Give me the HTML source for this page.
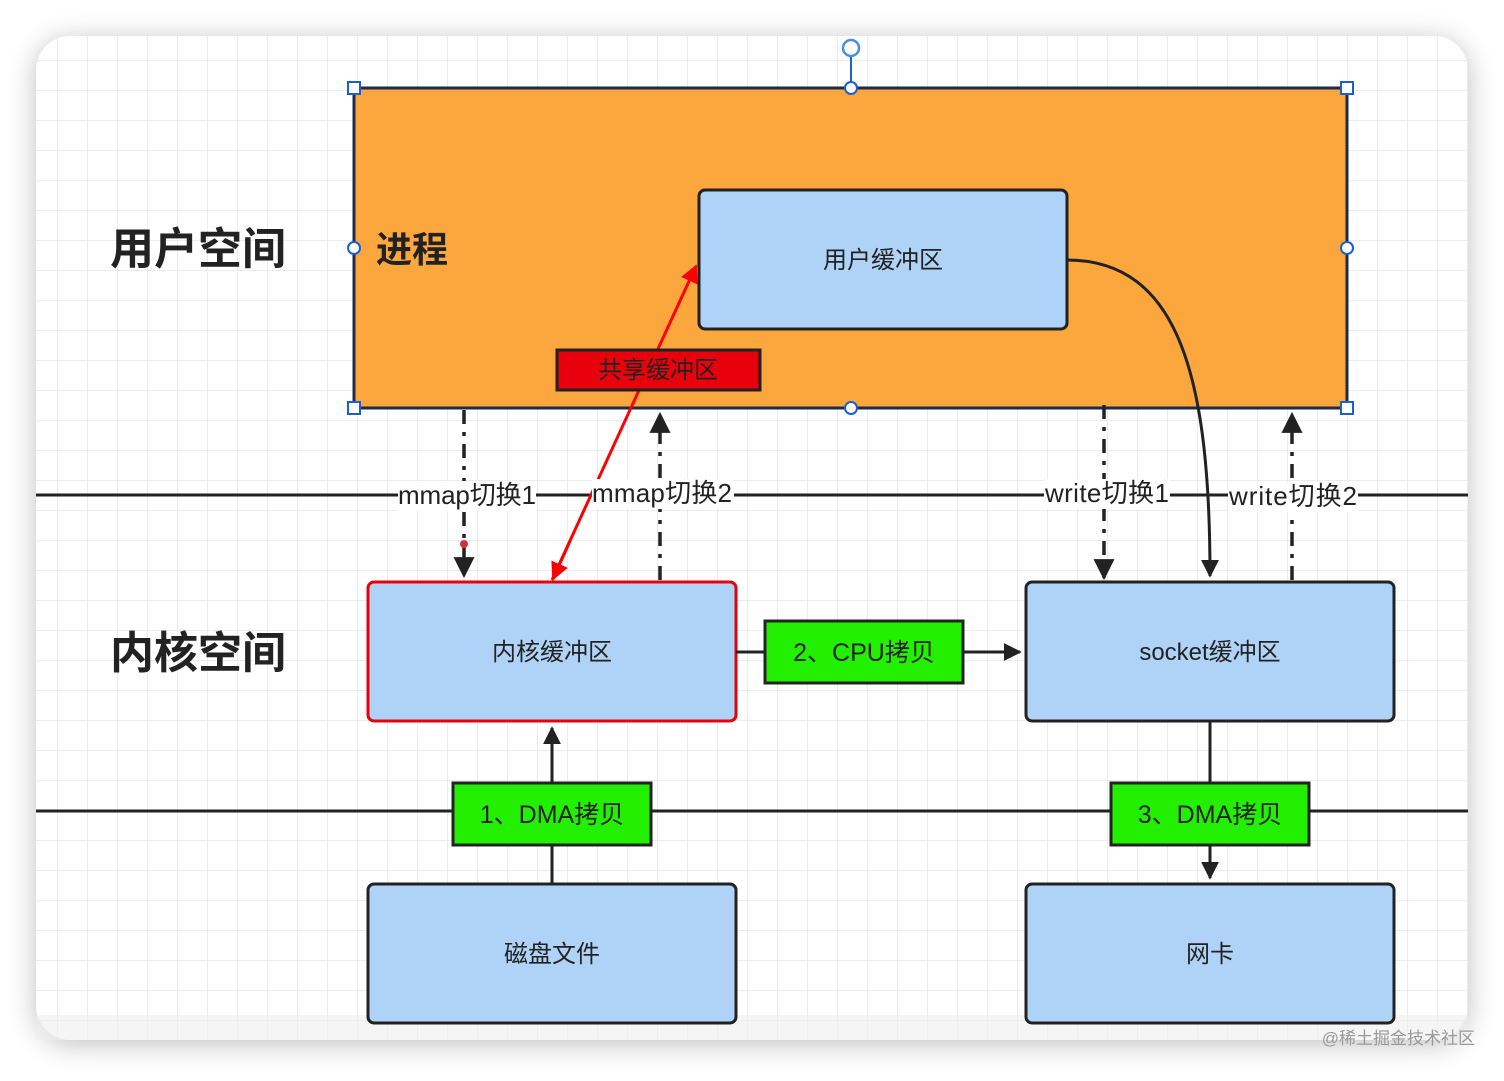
<!DOCTYPE html>
<html><head><meta charset="utf-8"><style>
body{margin:0;width:1504px;height:1076px;background:#fff;overflow:hidden}
</style></head><body>
<svg width="1504" height="1076" xmlns="http://www.w3.org/2000/svg" font-family="Liberation Sans, Noto Sans CJK SC, sans-serif">
<defs>
<pattern id="g" x="27" y="0" width="30" height="30" patternUnits="userSpaceOnUse">
<path d="M0 0V30M0 0H30" stroke="#e6e6e6" stroke-width="1.5" fill="none"/>
</pattern>
<filter id="sh" x="-10%" y="-10%" width="120%" height="120%"><feGaussianBlur stdDeviation="14"/></filter>
<marker id="a" viewBox="0 0 10 10" refX="9" refY="5" markerWidth="6" markerHeight="6" orient="auto"><path d="M0 0L10 5L0 10z" fill="#222"/></marker>
<marker id="r" viewBox="0 0 10 10" refX="9" refY="5" markerWidth="6" markerHeight="6" orient="auto"><path d="M0 0L10 5L0 10z" fill="#f00"/></marker>
</defs>
<rect x="36" y="40" width="1432" height="1004" rx="34" fill="#000" opacity="0.25" filter="url(#sh)"/>
<rect x="36" y="36" width="1432" height="1004" rx="34" fill="#fff"/>
<rect x="36" y="36" width="1432" height="1004" rx="34" fill="url(#g)"/>
<rect x="36" y="1015" width="1432" height="25" fill="#eee" opacity="0.6"/>
<line x1="36" y1="495" x2="1468" y2="495" stroke="#222" stroke-width="3"/>
<line x1="36" y1="811" x2="1468" y2="811" stroke="#222" stroke-width="3"/>
<rect x="354" y="88" width="993" height="320" fill="#fca73e" stroke="#1c2b4a" stroke-width="3"/>
<line x1="851" y1="56" x2="851" y2="88" stroke="#1a5fcc" stroke-width="2"/>
<circle cx="851" cy="48" r="8" fill="#fff" stroke="#4a8fe0" stroke-width="2.5"/>
<g fill="#fff" stroke="#1a5fcc" stroke-width="2">
<rect x="348" y="82" width="12" height="12"/><rect x="1341" y="82" width="12" height="12"/>
<rect x="348" y="402" width="12" height="12"/><rect x="1341" y="402" width="12" height="12"/>
<circle cx="851" cy="88" r="6"/><circle cx="851" cy="408" r="6"/>
<circle cx="354" cy="248" r="6"/><circle cx="1347" cy="248" r="6"/>
</g>
<text x="198" y="264" font-size="44" font-weight="bold" text-anchor="middle" fill="#222">用户空间</text>
<text x="198" y="668" font-size="44" font-weight="bold" text-anchor="middle" fill="#222">内核空间</text>
<text x="376" y="262" font-size="36" font-weight="bold" fill="#222">进程</text>
<rect x="699" y="190" width="368" height="139" rx="6" fill="#aed3f7" stroke="#222" stroke-width="3"/>
<text x="883" y="268" font-size="24" text-anchor="middle" fill="#222">用户缓冲区</text>
<line x1="552" y1="580" x2="696" y2="266" stroke="#f00" stroke-width="3" marker-end="url(#r)"/>
<rect x="557" y="350" width="203" height="40" fill="#e8000c" stroke="#222" stroke-width="3"/>
<text x="658" y="378" font-size="24" text-anchor="middle" fill="#222">共享缓冲区</text>
<rect x="368" y="582" width="368" height="139" rx="6" fill="#aed3f7" stroke="#e8000c" stroke-width="3"/>
<text x="552" y="660" font-size="24" text-anchor="middle" fill="#222">内核缓冲区</text>
<line x1="570" y1="541" x2="553" y2="579" stroke="#f00" stroke-width="3" marker-end="url(#r)"/>
<rect x="1026" y="582" width="368" height="139" rx="6" fill="#aed3f7" stroke="#222" stroke-width="3"/>
<text x="1210" y="660" font-size="24" text-anchor="middle" fill="#222">socket缓冲区</text>
<rect x="368" y="884" width="368" height="139" rx="6" fill="#aed3f7" stroke="#222" stroke-width="3"/>
<text x="552" y="962" font-size="24" text-anchor="middle" fill="#222">磁盘文件</text>
<rect x="1026" y="884" width="368" height="139" rx="6" fill="#aed3f7" stroke="#222" stroke-width="3"/>
<text x="1210" y="962" font-size="24" text-anchor="middle" fill="#222">网卡</text>
<line x1="552" y1="884" x2="552" y2="728" stroke="#222" stroke-width="3" marker-end="url(#a)"/>
<line x1="1210" y1="721" x2="1210" y2="878" stroke="#222" stroke-width="3" marker-end="url(#a)"/>
<line x1="736" y1="652" x2="1020" y2="652" stroke="#222" stroke-width="3" marker-end="url(#a)"/>
<path d="M1067 260C1180 260 1210 380 1210 576" fill="none" stroke="#222" stroke-width="3" marker-end="url(#a)"/>
<g stroke="#222" stroke-width="3.5" stroke-dasharray="14 8 4 8" fill="none">
<line x1="464" y1="410" x2="464" y2="576" marker-end="url(#a)"/>
<line x1="660" y1="580" x2="660" y2="414" marker-end="url(#a)"/>
<line x1="1104" y1="405" x2="1104" y2="578" marker-end="url(#a)"/>
<line x1="1292" y1="580" x2="1292" y2="414" marker-end="url(#a)"/>
</g>
<circle cx="464" cy="544" r="4" fill="#d03040"/>
<g font-size="26" fill="#222">
<rect x="398" y="481" width="138" height="30" fill="#fff"/><text x="398" y="504" textLength="138">mmap切换1</text>
<rect x="592" y="479" width="142" height="30" fill="#fff"/><text x="592" y="502" textLength="140">mmap切换2</text>
<rect x="1044" y="479" width="126" height="30" fill="#fff"/><text x="1045" y="502" textLength="124">write切换1</text>
<rect x="1228" y="482" width="130" height="30" fill="#fff"/><text x="1229" y="505" textLength="128">write切换2</text>
</g>
<rect x="765" y="621" width="198" height="62" fill="#22f000" stroke="#222" stroke-width="3"/>
<text x="864" y="661" font-size="25" text-anchor="middle" fill="#222">2、CPU拷贝</text>
<rect x="453" y="783" width="198" height="62" fill="#22f000" stroke="#222" stroke-width="3"/>
<text x="552" y="823" font-size="25" text-anchor="middle" fill="#222">1、DMA拷贝</text>
<rect x="1111" y="783" width="198" height="62" fill="#22f000" stroke="#222" stroke-width="3"/>
<text x="1210" y="823" font-size="25" text-anchor="middle" fill="#222">3、DMA拷贝</text>
<text x="1475" y="1044" font-size="17" text-anchor="end" fill="#999">@稀土掘金技术社区</text>
</svg>
</body></html>
